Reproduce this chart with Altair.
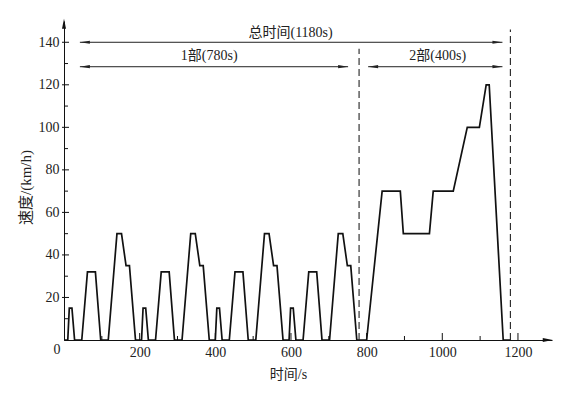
import altair as alt
import pandas as pd

# NEDC speed trace
times = [0, 10, 14, 21, 28, 47, 62, 83, 97, 117, 140, 152, 164, 173, 189,
         205, 209, 216, 223, 242, 257, 278, 292, 312, 335, 347, 359, 368, 384,
         400, 404, 411, 418, 437, 452, 473, 487, 507, 530, 542, 554, 563, 579,
         595, 599, 606, 613, 632, 647, 668, 682, 702, 725, 737, 749, 758, 774,
         800, 841, 889, 897, 966, 976, 1029, 1066, 1098, 1116, 1124, 1161, 1180]
speeds = [0, 0, 15, 15, 0, 0, 32, 32, 0, 0, 50, 50, 35, 35, 0,
          0, 15, 15, 0, 0, 32, 32, 0, 0, 50, 50, 35, 35, 0,
          0, 15, 15, 0, 0, 32, 32, 0, 0, 50, 50, 35, 35, 0,
          0, 15, 15, 0, 0, 32, 32, 0, 0, 50, 50, 35, 35, 0,
          0, 70, 70, 50, 50, 70, 70, 100, 100, 120, 120, 0, 0]

x_labels = [200, 400, 600, 800, 1000, 1200]
x_minor = [100, 300, 500, 700, 900, 1100]
y_labels = [20, 40, 60, 80, 100, 120, 140]
y_minor = [10, 30, 50, 70, 90, 110, 130]

dash_x = [780, 1180]
dash_top = [137, 146]

arrow_y = [140, 128.5, 128.5]
arrow_start = [42, 42, 804]
arrow_end = [1159, 751, 1159]

ann_text = ["总时间(1180s)", "1部(780s)", "2部(400s)"]
ann_x = [599, 384, 988]
ann_y = [144.5, 133.5, 133.5]

FONT = "Liberation Serif, Noto Sans CJK SC"
W, H = 488, 319
xs = alt.Scale(domain=[0, 1290], nice=False, zero=False)
ys = alt.Scale(domain=[0, 150], nice=False, zero=False)

curve_df = pd.DataFrame({"t": times, "v": speeds})

curve = alt.Chart(curve_df).mark_line(color="#111111", strokeWidth=1.7, clip=False).encode(
    x=alt.X("t:Q", scale=xs, title="时间/s",
            axis=alt.Axis(values=x_labels, ticks=False, grid=False, domainColor="#111111",
                          labelFont=FONT, labelFontSize=14, labelColor="#222222", labelPadding=5,
                          titleFont=FONT, titleFontSize=14, titleFontWeight="normal",
                          titleColor="#222222", titlePadding=8, titleX=224, format="d")),
    y=alt.Y("v:Q", scale=ys, title="速度/(km/h)",
            axis=alt.Axis(values=y_labels, ticks=False, grid=False, domainColor="#111111",
                          labelFont=FONT, labelFontSize=14, labelColor="#222222", labelPadding=5,
                          titleFont=FONT, titleFontSize=15, titleFontWeight="normal",
                          titleColor="#222222", titlePadding=5, titleY=166, format="d")),
    order="idx:Q",
).transform_window(idx="row_number()")

# inward ticks
xt_major = alt.Chart(pd.DataFrame({"t": x_labels})).mark_rule(color="#111111").encode(
    x=alt.X("t:Q", scale=xs), y=alt.value(H), y2=alt.value(H - 7))
xt_minor = alt.Chart(pd.DataFrame({"t": x_minor})).mark_rule(color="#111111").encode(
    x=alt.X("t:Q", scale=xs), y=alt.value(H), y2=alt.value(H - 4))
yt_major = alt.Chart(pd.DataFrame({"v": y_labels})).mark_rule(color="#111111").encode(
    y=alt.Y("v:Q", scale=ys), x=alt.value(-2), x2=alt.value(5))
yt_minor = alt.Chart(pd.DataFrame({"v": y_minor})).mark_rule(color="#111111").encode(
    y=alt.Y("v:Q", scale=ys), x=alt.value(0), x2=alt.value(4))

# axis arrowheads
x_arrow = alt.Chart(pd.DataFrame({"t": [1292], "v": [0]})).mark_point(
    shape="M0,0L-1,-0.2L-1,0.2Z", size=400, filled=True, color="#111111", opacity=1).encode(
    x=alt.X("t:Q", scale=xs), y=alt.Y("v:Q", scale=ys))
y_arrow = alt.Chart(pd.DataFrame({"t": [0], "v": [151]})).mark_point(
    shape="M0,0L-0.2,1L0.2,1Z", size=400, filled=True, color="#111111", opacity=1).encode(
    x=alt.X("t:Q", scale=xs), y=alt.Y("v:Q", scale=ys))

zero_lbl = alt.Chart(pd.DataFrame({"t": [0], "v": [0], "s": ["0"]})).mark_text(
    font=FONT, fontSize=14, color="#222222", dx=-7, dy=10).encode(
    x=alt.X("t:Q", scale=xs), y=alt.Y("v:Q", scale=ys), text="s:N")

# dashed verticals
dash_df = pd.DataFrame({"t": dash_x, "v0": [0, 0], "v1": dash_top})
dashes = alt.Chart(dash_df).mark_rule(color="#222222", strokeWidth=1.1, strokeDash=[7, 4]).encode(
    x=alt.X("t:Q", scale=xs), y=alt.Y("v0:Q", scale=ys), y2="v1:Q")

# span arrows
arr_df = pd.DataFrame({"y": arrow_y, "a": arrow_start, "b": arrow_end})
spans = alt.Chart(arr_df).mark_rule(color="#222222", strokeWidth=1).encode(
    x=alt.X("a:Q", scale=xs), x2="b:Q", y=alt.Y("y:Q", scale=ys))
heads_r = alt.Chart(arr_df).mark_point(
    shape="M0,0L-1,-0.16L-1,0.16Z", size=400, filled=True, color="#222222", opacity=1).encode(
    x=alt.X("b:Q", scale=xs), y=alt.Y("y:Q", scale=ys))
heads_l = alt.Chart(arr_df).mark_point(
    shape="M0,0L1,-0.16L1,0.16Z", size=400, filled=True, color="#222222", opacity=1).encode(
    x=alt.X("a:Q", scale=xs), y=alt.Y("y:Q", scale=ys))

ann = alt.Chart(pd.DataFrame({"x": ann_x, "y": ann_y, "s": ann_text})).mark_text(
    font=FONT, fontSize=14, color="#222222", baseline="middle").encode(
    x=alt.X("x:Q", scale=xs), y=alt.Y("y:Q", scale=ys), text="s:N")

chart = alt.layer(
    curve, dashes, spans, heads_r, heads_l, ann,
    xt_major, xt_minor, yt_major, yt_minor, x_arrow, y_arrow, zero_lbl
).properties(
    width=W, height=H,
    autosize=alt.AutoSizeParams(type="none"),
    padding={"left": 56, "top": 13, "right": 26, "bottom": 49},
    background="white",
).configure_view(stroke=None)

chart.save("out.html", embed_options={"renderer": "svg", "actions": False})
